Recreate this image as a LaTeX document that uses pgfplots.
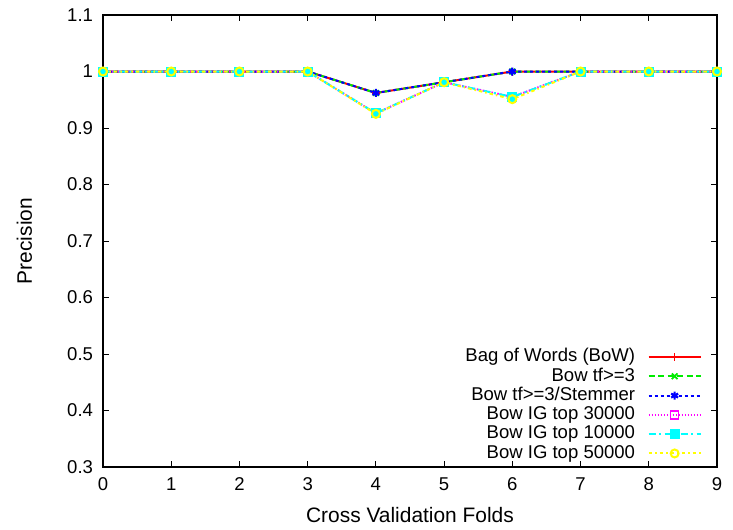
\documentclass[border=0pt]{standalone}
\usepackage{fontspec}
\setmainfont{Liberation Sans}
\usepackage{pgfplots}
\pgfplotsset{compat=1.18}
\definecolor{gred}{RGB}{255,0,0}
\definecolor{ggreen}{RGB}{0,235,0}
\definecolor{gblue}{RGB}{0,0,255}
\definecolor{gmag}{RGB}{255,0,255}
\definecolor{gcyan}{RGB}{0,255,255}
\definecolor{gyel}{RGB}{255,255,0}
\begin{document}
\begin{tikzpicture}
\begin{axis}[
  at={(0,0)}, anchor=south west,
  scale only axis, width=614bp, height=452bp,
  xmin=0, xmax=9, ymin=0.3, ymax=1.1,
  xtick={0,1,...,9},
  ytick={0.3,0.4,0.5,0.6,0.7,0.8,0.9,1,1.1},
  yticklabels={0.3,0.4,0.5,0.6,0.7,0.8,0.9,1,1.1},
  tick align=inside, xtick pos=both, ytick pos=both,
  major tick length=6bp,
  tick style={black, line width=1bp},
  axis line style={line width=1.4bp},
  /pgf/number format/assume math mode=true,
  ticklabel style={font=\fontsize{18.6}{20}\selectfont},
  yticklabel style={xshift=-6.5bp},
  xticklabel style={yshift=-7bp},
  xlabel={Cross Validation Folds},
  ylabel={Precision},
  label style={font=\fontsize{21}{23}\selectfont},
  xlabel style={at={(axis description cs:0.5,-0.107)}, anchor=center},
  ylabel style={at={(axis description cs:-0.128,0.5)}, anchor=center},
  legend plot pos=right,
  legend cell align=right,
  legend style={draw=none, fill=none, inner sep=0pt, outer sep=0pt,
    at={(axis description cs:0.975,0.2628)}, anchor=north east,
    font=\fontsize{18.6}{20}\selectfont, row sep=1.8bp, column sep=12.6bp,
    nodes={inner sep=0pt, outer sep=0pt, text height=13.5bp, text depth=4bp}},
  legend image code/.code={\draw[mark repeat=2,mark phase=2,#1] plot coordinates {(0bp,0bp)(26bp,0bp)(52bp,0bp)};},
  every axis plot/.append style={line width=2bp, mark size=4bp},
]
\addplot[gred, solid, mark=+, mark options={solid, line width=1.5bp}] coordinates {
 (0,1)(1,1)(2,1)(3,1)(4,0.962)(5,0.981)(6,1)(7,1)(8,1)(9,1)};
\addlegendentry{Bag of Words (BoW)}
\addplot[ggreen, dash pattern=on 6bp off 3.5bp, mark=x, mark options={solid, line width=1.8bp}] coordinates {
 (0,1)(1,1)(2,1)(3,1)(4,0.962)(5,0.981)(6,1)(7,1)(8,1)(9,1)};
\addlegendentry{Bow tf>=3}
\addplot[gblue, dash pattern=on 3bp off 3bp, mark=asterisk, mark options={solid, line width=2.2bp}] coordinates {
 (0,1)(1,1)(2,1)(3,1)(4,0.962)(5,0.981)(6,1)(7,1)(8,1)(9,1)};
\addlegendentry{Bow tf>=3/Stemmer}
\addplot[gmag, dash pattern=on 1.5bp off 1.5bp, mark=square, mark options={solid, line width=1.5bp}] coordinates {
 (0,1)(1,1)(2,1)(3,1)(4,0.926)(5,0.981)(6,0.955)(7,1)(8,1)(9,1)};
\addlegendentry{Bow IG top 30000}
\addplot[gcyan, dash pattern=on 7bp off 3.5bp on 2bp off 3.5bp, mark=square*, mark options={solid}] coordinates {
 (0,1)(1,1)(2,1)(3,1)(4,0.926)(5,0.981)(6,0.955)(7,1)(8,1)(9,1)};
\addlegendentry{Bow IG top 10000}
\addplot[gyel, dash pattern=on 3.5bp off 3bp on 1.5bp off 3bp, mark=o, mark options={solid, line width=2bp}] coordinates {
 (0,1)(1,1)(2,1)(3,1)(4,0.925)(5,0.981)(6,0.951)(7,1)(8,1)(9,1)};
\addlegendentry{Bow IG top 50000}
\end{axis}
\pgfresetboundingbox
\path[use as bounding box] (-103bp,-63bp) rectangle (630bp,467bp);
\end{tikzpicture}
\end{document}
